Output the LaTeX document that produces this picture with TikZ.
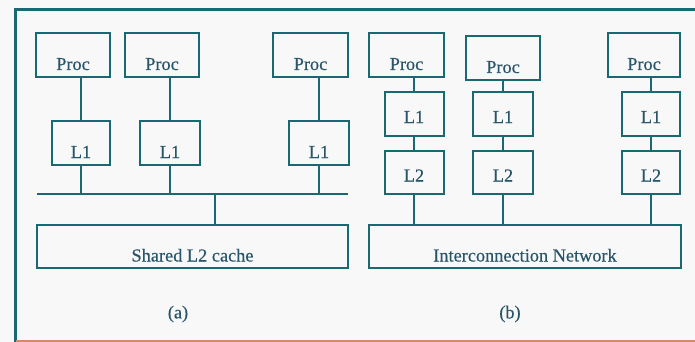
\documentclass[tikz,border=0pt]{standalone}
\usepackage{fontspec}
\setmainfont{Liberation Serif}
\definecolor{teal1}{RGB}{25,105,115}
\definecolor{txt1}{RGB}{40,85,105}
\definecolor{bg1}{RGB}{248,248,248}
\definecolor{rim1}{RGB}{205,140,110}
\newcommand{\lowtxt}[1]{\raisebox{-15pt}[0pt][0pt]{#1}}
\newcommand{\midtxt}[1]{\raisebox{-9pt}[0pt][0pt]{#1}}
\newcommand{\txtfont}{\fontsize{18.3}{18}\selectfont\addfontfeature{FakeBold=0.35}}
\tikzset{
  box/.style={draw=teal1, line width=2pt, rectangle, inner sep=0pt, text=txt1, font=\txtfont},
  wire/.style={draw=teal1, line width=2pt},
  cap1/.style={text=txt1, font=\txtfont, inner sep=0pt}
}
\begin{document}
\begin{tikzpicture}[x=1pt,y=-1pt]
\fill[bg1] (0,0) rectangle (695,342);
\useasboundingbox (0,0) rectangle (695,342);
% frame
\draw[teal1, line width=3pt] (15,342) -- (15,10) -- (695,10);
\draw[rim1, line width=2pt] (16,341) -- (695,341);
% panel (a)
\node[box, minimum width=74pt, minimum height=44pt] (pa1) at (73,55) {\lowtxt{Proc}};
\node[box, minimum width=74pt, minimum height=44pt] (pa2) at (162,55) {\lowtxt{Proc}};
\node[box, minimum width=75pt, minimum height=44pt] (pa3) at (310.5,55) {\lowtxt{Proc}};
\node[box, minimum width=58pt, minimum height=44pt] (la1) at (81,143) {\lowtxt{L1}};
\node[box, minimum width=60pt, minimum height=44pt] (la2) at (170,143) {\lowtxt{L1}};
\node[box, minimum width=60pt, minimum height=44pt] (la3) at (319,143) {\lowtxt{L1}};
\node[box, minimum width=311pt, minimum height=43pt] (sl2) at (192.5,246.5) {\lowtxt{Shared L2 cache}};
\coordinate (busL) at (37,194);
\coordinate (busR) at (348,194);
\coordinate (busJ) at (215,194);
\draw[wire] (busL) -- (busR);
\draw[wire] (busJ) -- (busJ |- sl2.north);
\foreach \p/\l in {pa1/la1, pa2/la2, pa3/la3}{
  \draw[wire] (\l.north) -- (\l.north |- \p.south);
  \draw[wire] (\l.south) -- (\l.south |- busL);
}
\node[cap1] (capa) at (178,314) {(a)};
% panel (b)
\node[box, minimum width=75pt, minimum height=44pt] (pb1) at (406.5,55) {\lowtxt{Proc}};
\node[box, minimum width=74pt, minimum height=44pt] (pb2) at (503,58) {\lowtxt{Proc}};
\node[box, minimum width=72pt, minimum height=44pt] (pb3) at (644,55) {\lowtxt{Proc}};
\node[box, minimum width=59pt, minimum height=44pt] (lb1) at (414,114) {\midtxt{L1}};
\node[box, minimum width=60pt, minimum height=44pt] (lb2) at (503,114) {\midtxt{L1}};
\node[box, minimum width=58pt, minimum height=44pt] (lb3) at (651,114) {\midtxt{L1}};
\node[box, minimum width=59pt, minimum height=43pt] (mb1) at (414,172.5) {\midtxt{L2}};
\node[box, minimum width=60pt, minimum height=43pt] (mb2) at (503,172.5) {\midtxt{L2}};
\node[box, minimum width=58pt, minimum height=43pt] (mb3) at (651,172.5) {\midtxt{L2}};
\node[box, minimum width=312pt, minimum height=43pt] (net) at (525,246.5) {\lowtxt{Interconnection Network}};
\foreach \p/\l/\m in {pb1/lb1/mb1, pb2/lb2/mb2, pb3/lb3/mb3}{
  \draw[wire] (\l.north) -- (\l.north |- \p.south);
  \draw[wire] (\l.south) -- (\m.north);
  \draw[wire] (\m.south) -- (\m.south |- net.north);
}
\node[cap1] (capb) at (510,314) {(b)};
\end{tikzpicture}
\end{document}
